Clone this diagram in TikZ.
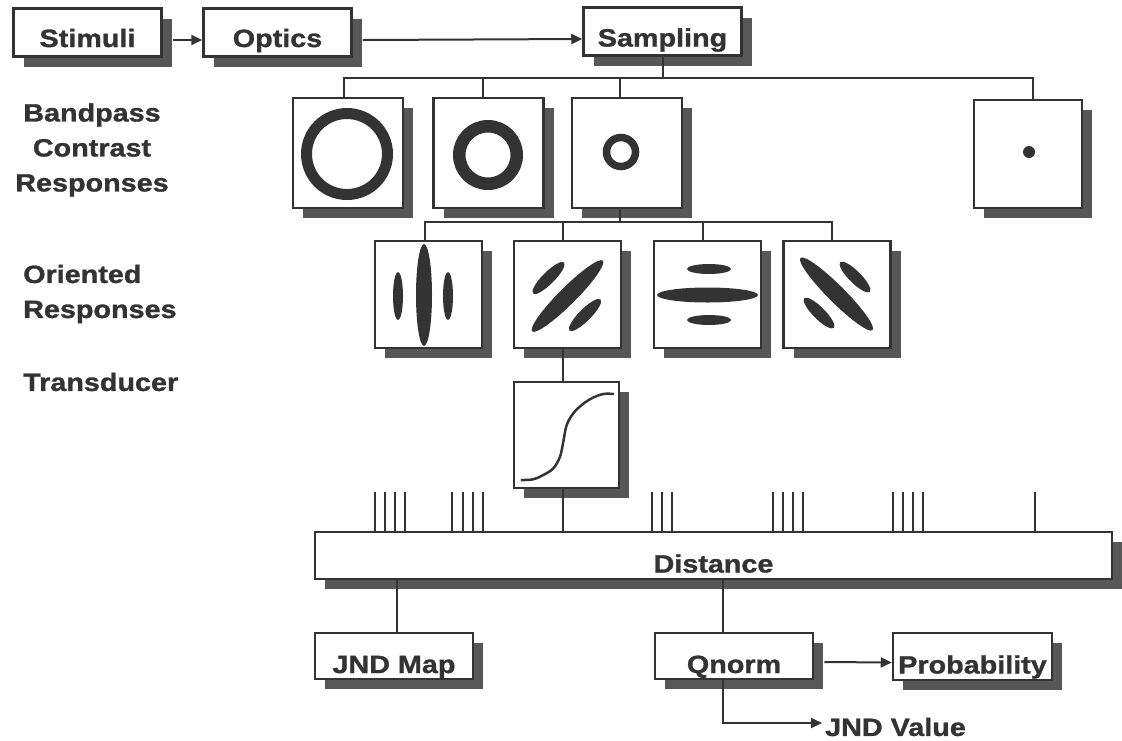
\documentclass[tikz,border=0pt]{standalone}
\usepackage{fontspec}
\setmainfont{Liberation Sans}[FakeStretch=1.15, BoldFeatures={FakeBold=1.2}]
\usetikzlibrary{arrows.meta,shadows}
\definecolor{ink}{HTML}{333333}
\definecolor{shade}{HTML}{575757}
\begin{document}
\begin{tikzpicture}[x=1pt,y=-1pt,
  every node/.style={text=ink, font=\bfseries\fontsize{25}{35}\selectfont},
  box/.style={draw=ink, line width=2.5pt, fill=white, inner sep=0pt,
    general shadow={shadow xshift=10pt, shadow yshift=-10pt, fill=shade}},
  tbox/.style={box, text height=#1, text depth=2pt},
  sqbox/.style={box, minimum width=107pt, minimum height=107pt},
  conn/.style={draw=ink, line width=2pt},
  arr/.style={conn, -{Triangle[length=11pt,width=10pt]}},
  blob/.style={fill=ink},
  ring/.style={draw=ink},
  label/.style={inner sep=0pt}
]
\useasboundingbox (0,0) rectangle (1122,740);

% top row
\node[tbox=31pt, minimum width=148pt, minimum height=48pt] (stim) at (87.5,32.5) {Stimuli};
\node[tbox=31pt, minimum width=148pt, minimum height=48pt] (opt) at (277.5,32.5) {Optics};
\node[tbox=32pt, minimum width=158pt, minimum height=48pt] (samp) at (662.5,31.5) {Sampling};

% bandpass
\node[sqbox, minimum width=110pt, minimum height=110pt] (bp1) at (348,153) {};
\node[sqbox, minimum width=110pt, minimum height=110pt] (bp2) at (488.5,153) {};
\node[sqbox, minimum width=110pt, minimum height=110pt] (bp3) at (627,153) {};
\node[sqbox, minimum width=108pt, minimum height=108pt] (bp4) at (1028,154) {};

% oriented
\node[sqbox] (or1) at (428.5,294.5) {};
\node[sqbox] (or2) at (567.5,294.5) {};
\node[sqbox] (or3) at (707.5,294.5) {};
\node[sqbox] (or4) at (837,294.5) {};

% transducer
\node[box, minimum width=105pt, minimum height=106pt] (tr) at (566.5,435) {};

% distance
\node[tbox=36pt, minimum width=797pt, minimum height=47pt] (dist) at (713.5,555.5) {Distance};

% outputs
\node[tbox=36pt, minimum width=158pt, minimum height=46pt] (jnd) at (394,656) {JND Map};
\node[tbox=36pt, minimum width=158pt, minimum height=46pt] (qn) at (734,656) {Qnorm};
\node[tbox=36pt, minimum width=159pt, minimum height=47pt] (prob) at (972.5,656.5) {Probability};
\node[label, anchor=west] (jv) at (825,727) {JND Value};

% left labels
\node[label, align=center] (lbp) at (92,150) {Bandpass\\Contrast\\Responses};
\node[label, align=left, anchor=west] (lor) at (23,294) {Oriented\\Responses};
\node[label, anchor=west] (ltr) at (23,382) {Transducer};

% top arrows
\draw[arr] ([xshift=10pt,yshift=-7.5pt]stim.east) -- ([yshift=-7.5pt]opt.west);
\draw[arr] ([xshift=10pt,yshift=-7.5pt]opt.east) -- ([yshift=-7.5pt]samp.west);

% sampling bus
\coordinate (busA) at (0,78);
\draw[conn] (samp.south) -- (samp.south |- busA);
\draw[conn] ([xshift=-4pt]bp1.north) |- ([xshift=5pt]bp4.north |- busA) -- ([xshift=5pt]bp4.north);
\draw[conn] ([xshift=-6pt]bp2.north) -- ([xshift=-6pt]bp2.north |- busA);
\draw[conn] ([xshift=-7pt]bp3.north) -- ([xshift=-7pt]bp3.north |- busA);

% oriented bus
\coordinate (busB) at (0,222);
\draw[conn] ([xshift=-7pt]bp3.south) -- ([xshift=-7pt]bp3.south |- busB);
\draw[conn] ([xshift=-4pt]or1.north) |- ([xshift=-5pt]or4.north |- busB) -- ([xshift=-5pt]or4.north);
\draw[conn] ([xshift=-5pt]or2.north) -- ([xshift=-5pt]or2.north |- busB);
\draw[conn] ([xshift=-5pt]or3.north) -- ([xshift=-5pt]or3.north |- busB);

% oriented -> transducer -> distance
\draw[conn] ([xshift=-5pt]or2.south) -- ([xshift=-5pt]or2.south |- tr.north);
\draw[conn] ([xshift=-4pt]tr.south) -- ([xshift=-4pt]tr.south |- dist.north);

% spikes
\foreach \sx in {375,385,395,405, 452,463,473,483, 652,662,672, 773,783,793,803, 893,903,913,923, 1035}
  \draw[conn] (\sx,492) -- (\sx,531);

% distance -> outputs
\draw[conn] ([xshift=3pt]jnd.north |- dist.south) -- ([xshift=3pt]jnd.north);
\draw[conn] ([xshift=-11pt]qn.north |- dist.south) -- ([xshift=-11pt]qn.north);
\draw[arr] ([xshift=10pt,yshift=-6pt]qn.east) -- ([yshift=-6pt]prob.west);
\draw[arr] ([xshift=-11pt]qn.south) |- ([xshift=-3pt,yshift=4pt]jv.west);

% rings
\draw[ring, line width=11pt] (347,154) circle[radius=40.5pt];
\draw[ring, line width=12.5pt] (488,155) circle[radius=28.75pt];
\draw[ring, line width=7.5pt] (621,152) circle[radius=14.5pt];
\fill[blob] (1029,152) circle[radius=6pt];

% oriented blobs
\fill[blob] (424,295) ellipse[x radius=8pt, y radius=51pt];
\fill[blob] (398,296) ellipse[x radius=5pt, y radius=24pt];
\fill[blob] (448,296) ellipse[x radius=5pt, y radius=24pt];

\fill[blob, shift={(567.5,296)}, rotate=45] (0,0) ellipse[x radius=50pt, y radius=8.5pt];
\fill[blob, shift={(548.5,278)}, rotate=45] (0,0) ellipse[x radius=22pt, y radius=6pt];
\fill[blob, shift={(585,315)}, rotate=45] (0,0) ellipse[x radius=22pt, y radius=6pt];

\fill[blob] (707.5,295) ellipse[x radius=50.5pt, y radius=7.5pt];
\fill[blob] (709,269) ellipse[x radius=22pt, y radius=5pt];
\fill[blob] (709,320) ellipse[x radius=22pt, y radius=5pt];

\fill[blob, shift={(836.5,294)}, rotate=-45] (0,0) ellipse[x radius=51pt, y radius=8.5pt];
\fill[blob, shift={(855,277)}, rotate=-45] (0,0) ellipse[x radius=21pt, y radius=6pt];
\fill[blob, shift={(819,313)}, rotate=-45] (0,0) ellipse[x radius=21pt, y radius=6pt];

% sigmoid
\draw[ink, line width=2.5pt, line cap=round] plot[smooth, tension=0.6] coordinates {
  (521.7,480) (533.3,479.3) (543.3,475) (553.3,468.3) (560,456.7) (563.3,441.7)
  (566.7,425) (573.3,413.3) (581.7,405) (591.7,398.3) (603.3,394) (613.3,394)};
\end{tikzpicture}
\end{document}
